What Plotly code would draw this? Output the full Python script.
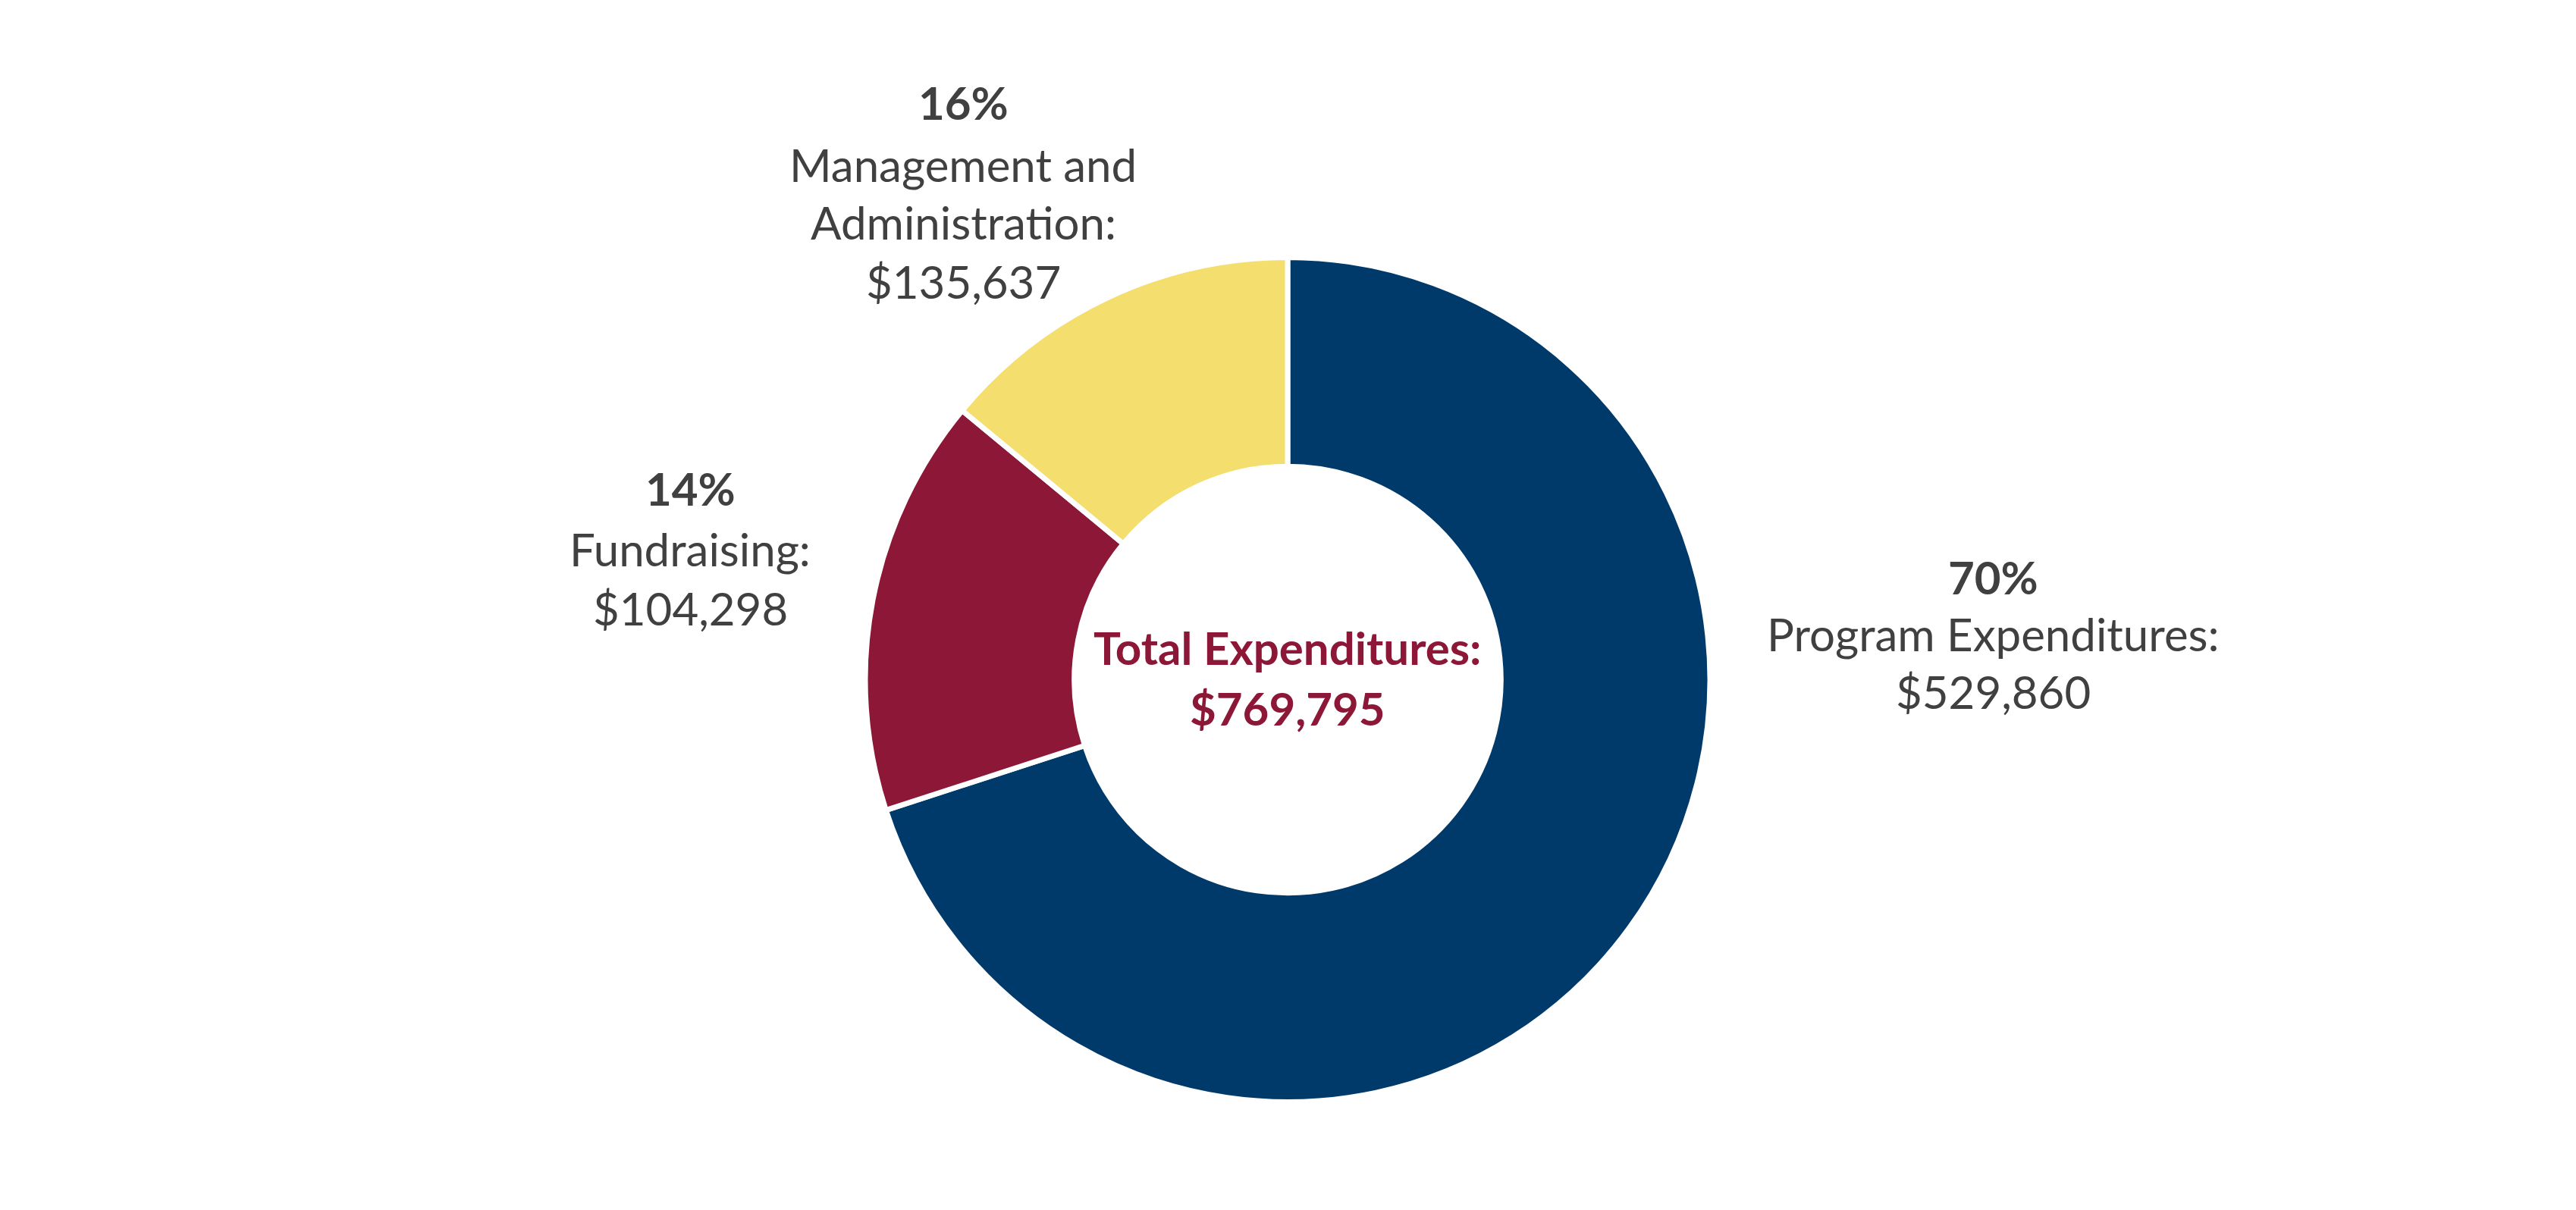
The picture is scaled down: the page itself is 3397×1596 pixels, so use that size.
"""
Donut chart of total expenditures by category.
"""

import plotly.graph_objects as go


# slices as drawn, clockwise from 12 o'clock
SLICE_NAMES = ["Program Expenditures", "Fundraising", "Management and Administration"]
SLICE_VALUES = [70, 16, 14]
SLICE_COLORS = ["#003A6B", "#8C1736", "#F3DE6E"]

# label blocks: percent, name lines, amount
LABEL_PCTS = ["70%", "14%", "16%"]
LABEL_NAMES = [["Program Expenditures:"], ["Fundraising:"], ["Management and", "Administration:"]]
LABEL_AMOUNTS = ["$529,860", "$104,298", "$135,637"]

TOTAL_TITLE = "Total Expenditures:"
TOTAL_AMOUNT = "$769,795"

W, H = 3397, 1596
FONT = "Lato"
TEXT_COLOR = "#404040"
CENTER_COLOR = "#8C1736"

# the page body adds an 8px offset, so positions are pulled back by it
OFFSET = 10

# label block anchors (pixel x of block centre, pixel y of each line)
LABEL_X = [2628, 910, 1270]
LABEL_LINE_Y = [[763, 838, 914], [646, 726, 804], [137, 219, 295, 373]]
CENTER_X = 1698
CENTER_LINE_Y = [856, 936]


def px_to_paper(x, y):
    return (x - 8) / W, 1 - (y - OFFSET) / H


def main():
    """main program"""
    fig = go.Figure(
        go.Pie(
            labels=SLICE_NAMES,
            values=SLICE_VALUES,
            marker=dict(colors=SLICE_COLORS, line=dict(color="white", width=7)),
            hole=0.505,
            sort=False,
            direction="clockwise",
            rotation=0,
            textinfo="none",
            hoverinfo="label+percent",
            domain=dict(x=[0.33353, 0.66147], y=[0.0943, 0.7923]),
            showlegend=False,
        )
    )

    annotations = []
    for i, pct in enumerate(LABEL_PCTS):
        lines = ["<b>" + pct + "</b>"] + LABEL_NAMES[i] + [LABEL_AMOUNTS[i]]
        for text, ypx in zip(lines, LABEL_LINE_Y[i]):
            x, y = px_to_paper(LABEL_X[i], ypx)
            annotations.append(dict(
                x=x, y=y, xref="paper", yref="paper", text=text,
                showarrow=False, xanchor="center", yanchor="middle",
                font=dict(family=FONT, size=60, color=TEXT_COLOR)))

    for text, ypx in zip([TOTAL_TITLE, TOTAL_AMOUNT], CENTER_LINE_Y):
        x, y = px_to_paper(CENTER_X, ypx)
        annotations.append(dict(
            x=x, y=y, xref="paper", yref="paper", text="<b>" + text + "</b>",
            showarrow=False, xanchor="center", yanchor="middle",
            font=dict(family=FONT, size=60, color=CENTER_COLOR)))

    fig.update_layout(
        width=W,
        height=H,
        margin=dict(l=0, r=0, t=0, b=0),
        paper_bgcolor="white",
        plot_bgcolor="white",
        annotations=annotations,
    )

    fig.write_html("out.html")


if __name__ == "__main__":
    main()
